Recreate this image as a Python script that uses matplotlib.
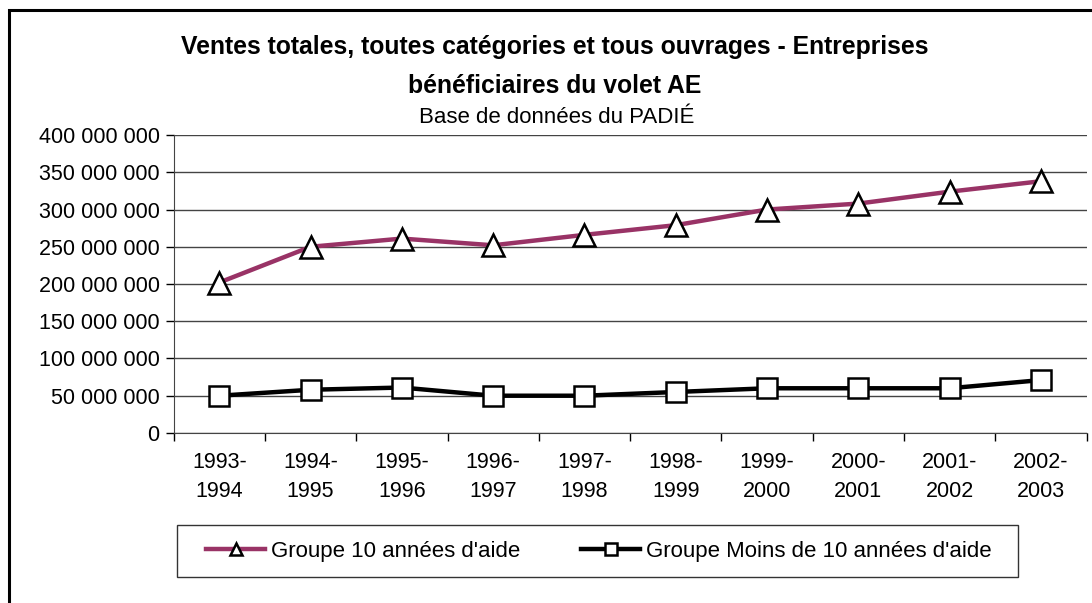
import matplotlib.pyplot as plt
from matplotlib.patches import Rectangle
from matplotlib.ticker import FuncFormatter, FixedLocator

plt.rcParams['font.family'] = ['Liberation Sans', 'DejaVu Sans']

periodes = ["1993-\n1994", "1994-\n1995", "1995-\n1996", "1996-\n1997", "1997-\n1998",
            "1998-\n1999", "1999-\n2000", "2000-\n2001", "2001-\n2002", "2002-\n2003"]
groupe_10 = [202e6, 250e6, 261e6, 252e6, 266e6, 279e6, 300e6, 308e6, 324e6, 338e6]
groupe_moins_10 = [50e6, 58e6, 61e6, 50e6, 50e6, 55e6, 60e6, 60e6, 60e6, 71e6]

fig = plt.figure(figsize=(10.92, 6.03), dpi=100)
ax = fig.add_axes([0.159, 0.282, 0.836, 0.494])

x = list(range(len(periodes)))
ax.plot(x, groupe_10, color="#993366", lw=3.2, marker="^", ms=16, mfc="white",
        mec="black", mew=1.8, label="Groupe 10 années d'aide", zorder=3)
ax.plot(x, groupe_moins_10, color="black", lw=3.2, marker="s", ms=15, mfc="white",
        mec="black", mew=1.8, label="Groupe Moins de 10 années d'aide", zorder=3)

ax.set_xlim(-0.5, len(periodes) - 0.5)
ax.set_ylim(0, 400e6)
ax.set_yticks([i * 50e6 for i in range(9)])
ax.yaxis.set_major_formatter(FuncFormatter(lambda v, p: f"{int(v):,}".replace(",", " ")))
ax.set_xticks(x)
ax.set_xticklabels(periodes, fontsize=15.5, linespacing=1.45)
ax.xaxis.set_minor_locator(FixedLocator([i - 0.5 for i in range(len(periodes) + 1)]))
ax.tick_params(axis="x", which="major", length=0, pad=14)
ax.tick_params(axis="x", which="minor", length=6, width=1, direction="out")
ax.tick_params(axis="y", labelsize=15.5, length=6, width=1, direction="out", pad=4)

ax.grid(axis="y", color="#444444", lw=1)
ax.set_axisbelow(True)
for s in ["top", "right"]:
    ax.spines[s].set_visible(False)
ax.spines["left"].set_color("#444444")
ax.spines["bottom"].set_color("#444444")

# titres
fig.text(0.508, 0.922, "Ventes totales, toutes catégories et tous ouvrages - Entreprises",
         ha="center", va="center", fontsize=17.8, fontweight="bold")
fig.text(0.508, 0.857, "bénéficiaires du volet AE", ha="center", va="center",
         fontsize=17.8, fontweight="bold")
fig.text(0.5096, 0.805, "Base de données du PADIÉ", ha="center", va="center", fontsize=16)

# légende
fig.patches.append(Rectangle((0.162, 0.0431), 0.770, 0.0862, transform=fig.transFigure,
                             fill=False, ec="#333333", lw=1))
fig.legend(loc="center", bbox_to_anchor=(0.5485, 0.0862), ncol=2, frameon=False,
           fontsize=16, markerscale=0.55, handlelength=2.65, handletextpad=0.27,
           columnspacing=2.75)

# cadre extérieur
fig.patches.append(Rectangle((0.008, -0.02), 1.0, 1.003, transform=fig.transFigure,
                             fill=False, ec="black", lw=2.2))

fig.savefig("out.png", dpi=100)
